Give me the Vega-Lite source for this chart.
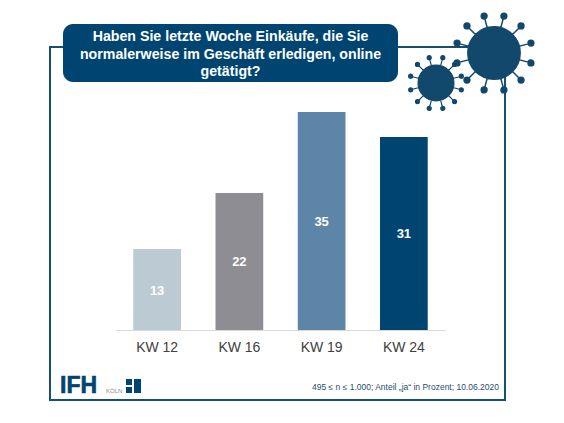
{"$schema":"https://vega.github.io/schema/vega-lite/v6.json","width":455,"height":353,"autosize":"none","padding":{"left":50,"top":47,"right":59,"bottom":23},"background":"white","view":{"stroke":"#17506f","strokeWidth":2,"fill":"white"},"data":{"values":[{"kw":"KW 12","wert":13},{"kw":"KW 16","wert":22},{"kw":"KW 19","wert":35},{"kw":"KW 24","wert":31}]},"resolve":{"scale":{"y":"independent"}},"encoding":{"x":{"field":"kw","type":"nominal","sort":null,"title":null,"scale":{"range":[66,395],"paddingInner":0.42,"paddingOuter":0.21},"axis":{"offset":-70,"labelAngle":0,"ticks":false,"domainColor":"#d9d9d9","domainWidth":1,"labelFont":"Liberation Sans","labelFontSize":14,"labelColor":"#404040","labelPadding":10,"grid":false}}},"layer":[{"mark":{"type":"bar","clip":false},"encoding":{"y":{"field":"wert","type":"quantitative","title":null,"scale":{"domain":[0,35],"range":[283,65]},"axis":null},"color":{"field":"kw","type":"nominal","sort":null,"legend":null,"scale":{"range":["#bccad3","#8d8d93","#5c85a8","#004571"]}}}},{"mark":{"type":"text","font":"Liberation Sans","fontSize":13,"fontWeight":"bold","color":"white","dy":1},"encoding":{"y":{"field":"wert","type":"quantitative","title":null,"scale":{"domain":[0,70],"range":[283,65]},"axis":null},"text":{"field":"wert","type":"quantitative"}}},{"data":{"values":[{"element":"Titelband"}]},"mark":{"type":"rect","x":13,"x2":348,"y":-23,"y2":35,"cornerRadius":10,"color":"#004571"},"encoding":{"x":null}},{"data":{"values":[{"element":"Titel"}]},"mark":{"type":"text","text":["Haben Sie letzte Woche Einkäufe, die Sie","normalerweise im Geschäft erledigen, online","getätigt?"],"x":180.5,"y":-10,"align":"center","baseline":"middle","font":"Liberation Sans","fontSize":14.2,"fontWeight":"bold","color":"white","lineHeight":17.5},"encoding":{"x":null}},{"data":{"values":[{"element":"Virus groß"}]},"mark":{"type":"point","x":444,"y":6,"size":6900,"filled":true,"opacity":1,"fillOpacity":1,"strokeOpacity":1,"color":"#11486c","stroke":"#11486c","strokeWidth":1.5,"shape":"M-.63 0a.63 .63 0 1 0 1.26 0a.63 .63 0 1 0-1.26 0ZM0 0L.889 .238M.819 .238a.07 .07 0 1 0 .14 0a.07 .07 0 1 0-.14 0ZM0 0L.651 .651M.581 .651a.07 .07 0 1 0 .14 0a.07 .07 0 1 0-.14 0ZM0 0L.238 .889M.168 .889a.07 .07 0 1 0 .14 0a.07 .07 0 1 0-.14 0ZM0 0L-.238 .889M-.308 .889a.07 .07 0 1 0 .14 0a.07 .07 0 1 0-.14 0ZM0 0L-.651 .651M-.721 .651a.07 .07 0 1 0 .14 0a.07 .07 0 1 0-.14 0ZM0 0L-.889 .238M-.959 .238a.07 .07 0 1 0 .14 0a.07 .07 0 1 0-.14 0ZM0 0L-.889 -.238M-.959 -.238a.07 .07 0 1 0 .14 0a.07 .07 0 1 0-.14 0ZM0 0L-.651 -.651M-.721 -.651a.07 .07 0 1 0 .14 0a.07 .07 0 1 0-.14 0ZM0 0L-.238 -.889M-.308 -.889a.07 .07 0 1 0 .14 0a.07 .07 0 1 0-.14 0ZM0 0L.238 -.889M.168 -.889a.07 .07 0 1 0 .14 0a.07 .07 0 1 0-.14 0ZM0 0L.651 -.651M.581 -.651a.07 .07 0 1 0 .14 0a.07 .07 0 1 0-.14 0ZM0 0L.889 -.238M.819 -.238a.07 .07 0 1 0 .14 0a.07 .07 0 1 0-.14 0Z"},"encoding":{"x":null}},{"data":{"values":[{"element":"Virus klein"}]},"mark":{"type":"point","x":386,"y":36,"size":3250,"filled":true,"opacity":1,"fillOpacity":1,"strokeOpacity":1,"color":"#11486c","stroke":"#11486c","strokeWidth":1.2,"shape":"M-.63 0a.63 .63 0 1 0 1.26 0a.63 .63 0 1 0-1.26 0ZM0 0L.889 .238M.819 .238a.07 .07 0 1 0 .14 0a.07 .07 0 1 0-.14 0ZM0 0L.651 .651M.581 .651a.07 .07 0 1 0 .14 0a.07 .07 0 1 0-.14 0ZM0 0L.238 .889M.168 .889a.07 .07 0 1 0 .14 0a.07 .07 0 1 0-.14 0ZM0 0L-.238 .889M-.308 .889a.07 .07 0 1 0 .14 0a.07 .07 0 1 0-.14 0ZM0 0L-.651 .651M-.721 .651a.07 .07 0 1 0 .14 0a.07 .07 0 1 0-.14 0ZM0 0L-.889 .238M-.959 .238a.07 .07 0 1 0 .14 0a.07 .07 0 1 0-.14 0ZM0 0L-.889 -.238M-.959 -.238a.07 .07 0 1 0 .14 0a.07 .07 0 1 0-.14 0ZM0 0L-.651 -.651M-.721 -.651a.07 .07 0 1 0 .14 0a.07 .07 0 1 0-.14 0ZM0 0L-.238 -.889M-.308 -.889a.07 .07 0 1 0 .14 0a.07 .07 0 1 0-.14 0ZM0 0L.238 -.889M.168 -.889a.07 .07 0 1 0 .14 0a.07 .07 0 1 0-.14 0ZM0 0L.651 -.651M.581 -.651a.07 .07 0 1 0 .14 0a.07 .07 0 1 0-.14 0ZM0 0L.889 -.238M.819 -.238a.07 .07 0 1 0 .14 0a.07 .07 0 1 0-.14 0ZM0 0L.651 .651M.581 .651a.07 .07 0 1 0 .14 0a.07 .07 0 1 0-.14 0Z"},"encoding":{"x":null}},{"data":{"values":[{"element":"Logo"}]},"mark":{"type":"text","text":"IFH","x":10,"y":346,"align":"left","baseline":"alphabetic","font":"Liberation Sans","fontSize":23,"fontWeight":"bold","color":"#004571","stroke":"#004571","strokeWidth":0.6},"encoding":{"x":null}},{"data":{"values":[{"element":"Logo"}]},"mark":{"type":"text","text":"KÖLN","x":56,"y":346,"align":"left","baseline":"alphabetic","font":"Liberation Sans","fontSize":6,"color":"#8d8d93"},"encoding":{"x":null}},{"data":{"values":[{"element":"Logo"}]},"mark":{"type":"rect","x":76,"x2":82,"y":332,"y2":338,"color":"#004571"},"encoding":{"x":null}},{"data":{"values":[{"element":"Logo"}]},"mark":{"type":"rect","x":76,"x2":82,"y":340,"y2":346,"color":"#004571"},"encoding":{"x":null}},{"data":{"values":[{"element":"Logo"}]},"mark":{"type":"rect","x":84,"x2":91,"y":332,"y2":346,"color":"#004571"},"encoding":{"x":null}},{"data":{"values":[{"element":"Fußnote"}]},"mark":{"type":"text","text":"495 ≤ n ≤ 1.000; Anteil „ja“ in Prozent; 10.06.2020","x":449,"y":340,"align":"right","baseline":"middle","font":"Liberation Sans","fontSize":8.5,"color":"#1f4e6e"},"encoding":{"x":null}}]}
